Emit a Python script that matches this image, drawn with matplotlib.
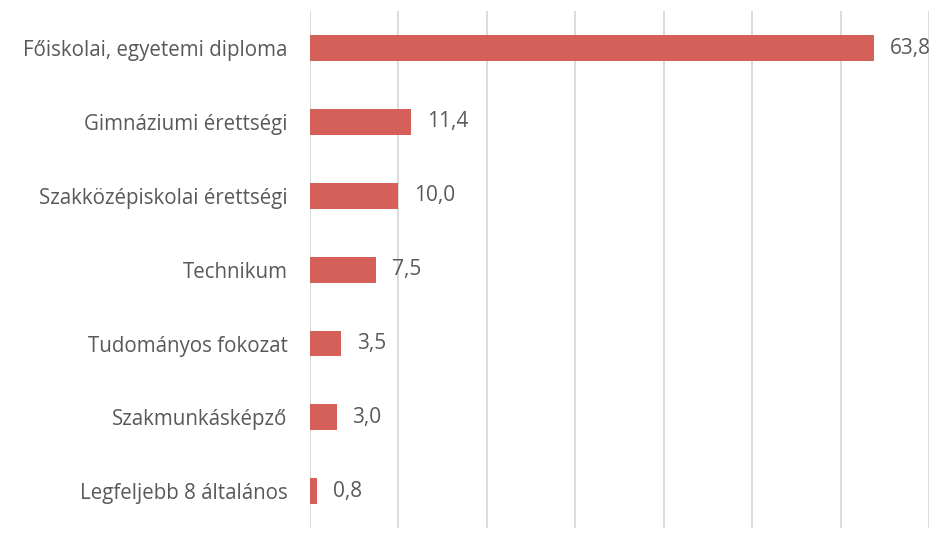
import matplotlib.pyplot as plt

categories = ["Főiskolai, egyetemi diploma", "Gimnáziumi érettségi", "Szakközépiskolai érettségi",
              "Technikum", "Tudományos fokozat", "Szakmunkásképző", "Legfeljebb 8 általános"]
values = [63.8, 11.4, 10.0, 7.5, 3.5, 3.0, 0.8]

plt.rcParams['font.family'] = ['Open Sans', 'DejaVu Sans']

fig = plt.figure(figsize=(9.48, 5.33), dpi=100)
ax = fig.add_axes([0.327, 0.009, 0.653, 0.970])

pos = list(range(len(categories)))
ax.barh(pos, values, height=0.35, color='#D5605A', zorder=3)
for p, v in zip(pos, values):
    ax.text(v + 1.8, p, f"{v:.1f}".replace('.', ','), va='center', ha='left',
            fontsize=15, color='#595959')

ax.set_xlim(0, 70)
ax.set_ylim(len(categories) - 0.5, -0.5)
ax.set_xticks(range(0, 71, 10))
ax.set_xticklabels([])
ax.xaxis.grid(True, color='#D9D9D9', linewidth=1.3, zorder=0)
ax.set_yticks(pos)
ax.set_yticklabels(categories, fontsize=14.8, color='#595959')
ax.tick_params(length=0, pad=16)
for s in ax.spines.values():
    s.set_visible(False)

fig.savefig('out.png', dpi=100)
